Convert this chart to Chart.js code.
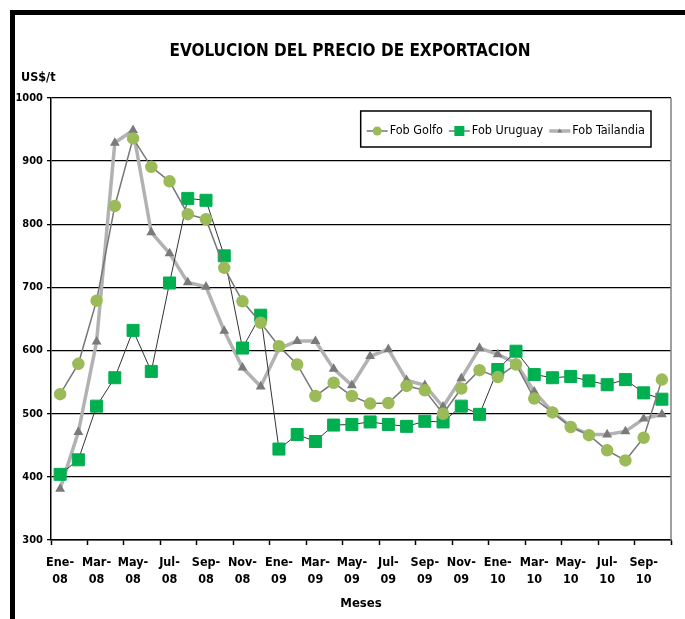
<!DOCTYPE html>
<html>
<head>
<meta charset="utf-8">
<script src="https://cdn.jsdelivr.net/npm/chart.js@4.4.1/dist/chart.umd.min.js"></script>
<style>
  html, body { margin: 0; padding: 0; background: #fff; }
  #wrap { position: relative; width: 685px; height: 619px; }
  #frame { position: absolute; left: 10px; top: 10px; right: 0; bottom: 0; border-top: 5px solid #000; border-left: 5px solid #000; pointer-events: none; }
  canvas { position: absolute; left: 0; top: 0; }
</style>
</head>
<body>
<div id="wrap">
  <canvas id="chart" width="685" height="619"></canvas>
  <div id="frame"></div>
</div>
<script>
const FONT = "'Liberation Sans Narrow', 'DejaVu Sans Condensed', Arial, sans-serif";

const months = [
  'Ene-08', 'Feb-08', 'Mar-08', 'Abr-08', 'May-08', 'Jun-08', 'Jul-08', 'Ago-08', 'Sep-08', 'Oct-08', 'Nov-08', 'Dic-08',
  'Ene-09', 'Feb-09', 'Mar-09', 'Abr-09', 'May-09', 'Jun-09', 'Jul-09', 'Ago-09', 'Sep-09', 'Oct-09', 'Nov-09', 'Dic-09',
  'Ene-10', 'Feb-10', 'Mar-10', 'Abr-10', 'May-10', 'Jun-10', 'Jul-10', 'Ago-10', 'Sep-10', 'Oct-10'
];

// US$/t
const fobGolfo = [531, 579, 679, 829, 936, 891, 868, 816, 808, 731, 678, 644, 607, 578, 528, 549, 528, 516, 517, 544, 537, 500, 540, 569, 558, 578, 524, 502, 479, 466, 442, 426, 462, 554];
const fobUruguay = [404, 427, 512, 557, 632, 567, 707, 841, 838, 750, 604, 656, 444, 467, 456, 482, 483, 487, 483, 480, 488, 487, 512, 499, 570, 599, 562, 557, 559, 552, 546, 554, 533, 523];
const fobTailandia = [381, 471, 614, 929, 949, 787, 754, 708, 701, 631, 573, 543, 603, 615, 615, 571, 545, 591, 602, 553, 545, 511, 556, 604, 594, 580, 535, 503, 480, 467, 467, 472, 492, 499];

const yTicks = [300, 400, 500, 600, 700, 800, 900, 1000];

const TITLE = 'EVOLUCION DEL PRECIO DE EXPORTACION';

// legend in a box inside the plot, Excel style (line with marker)
const boxLegend = {
  id: 'boxLegend',
  afterDraw(chart) {
    const { ctx, chartArea } = chart;
    const sets = chart.data.datasets;
    ctx.save();
    ctx.font = '12.5px ' + FONT;
    const lineW = 21, gap = 2, itemGap = 6, padX = 6, h = 36;
    const widths = sets.map(ds => lineW + gap + ctx.measureText(ds.label).width);
    const total = widths.reduce((a, b) => a + b, 0) + itemGap * (sets.length - 1) + padX * 2;
    const right = chartArea.right - 20;
    const top = chartArea.top + 13;
    const left = right - total;
    ctx.fillStyle = '#fff';
    ctx.fillRect(left, top, total, h);
    ctx.strokeStyle = '#000';
    ctx.lineWidth = 1.5;
    ctx.strokeRect(left, top, total, h);

    let x = left + padX;
    const y = top + h / 2 + 2;
    sets.forEach((ds, i) => {
      ctx.strokeStyle = ds.borderColor;
      ctx.lineWidth = ds.borderWidth;
      ctx.beginPath();
      ctx.moveTo(x, y);
      ctx.lineTo(x + lineW, y);
      ctx.stroke();
      const cx = x + lineW / 2;
      ctx.fillStyle = ds.pointBackgroundColor;
      ctx.beginPath();
      if (ds.pointStyle === 'circle') {
        ctx.arc(cx, y, 4.5, 0, Math.PI * 2);
      } else if (ds.pointStyle === 'rect') {
        ctx.rect(cx - 5, y - 5, 10, 10);
      } else {
        ctx.moveTo(cx, y - 2.5);
        ctx.lineTo(cx + 2.5, y + 1.5);
        ctx.lineTo(cx - 2.5, y + 1.5);
        ctx.closePath();
      }
      ctx.fill();
      ctx.fillStyle = '#000';
      ctx.textAlign = 'left';
      ctx.textBaseline = 'middle';
      ctx.fillText(ds.label, x + lineW + gap, y);
      x += widths[i] + itemGap;
    });
    ctx.restore();
  }
};

// title, unit label over the y axis and right edge of the plot area
const plotExtras = {
  id: 'plotExtras',
  afterDraw(chart) {
    const { ctx, chartArea } = chart;
    ctx.save();
    ctx.strokeStyle = '#808080';
    ctx.lineWidth = 1.5;
    ctx.beginPath();
    ctx.moveTo(chartArea.right, chartArea.top);
    ctx.lineTo(chartArea.right, chartArea.bottom);
    ctx.stroke();

    ctx.fillStyle = '#000';
    ctx.textBaseline = 'middle';
    ctx.font = 'bold 17px ' + FONT;
    ctx.textAlign = 'center';
    ctx.fillText(TITLE, 350, 52);

    ctx.font = 'bold 12.5px ' + FONT;
    ctx.textAlign = 'left';
    ctx.fillText('US$/t', chartArea.left - 30, chartArea.top - 20);
    ctx.restore();
  }
};

new Chart(document.getElementById('chart'), {
  type: 'line',
  data: {
    labels: months,
    datasets: [
      {
        label: 'Fob Golfo',
        data: fobGolfo,
        borderColor: '#777777',
        borderWidth: 1.5,
        pointStyle: 'circle',
        pointRadius: 5.5,
        pointBackgroundColor: '#9bbb59',
        pointBorderColor: '#9bbb59',
        tension: 0,
      },
      {
        label: 'Fob Uruguay',
        data: fobUruguay,
        borderColor: '#333333',
        borderWidth: 1,
        pointStyle: 'rect',
        pointRadius: 8.5,
        pointBackgroundColor: '#00b050',
        pointBorderColor: '#00b050',
        tension: 0,
      },
      {
        label: 'Fob Tailandia',
        data: fobTailandia,
        borderColor: '#b2b2b2',
        borderWidth: 3.5,
        pointStyle: 'triangle',
        pointRadius: 2.2,
        pointBackgroundColor: '#7a7a7a',
        pointBorderColor: '#7a7a7a',
        tension: 0,
      },
    ],
  },
  options: {
    responsive: false,
    animation: false,
    layout: { padding: { top: 98, left: 0, right: 14, bottom: 0 } },
    plugins: {
      legend: { display: false },
      tooltip: { enabled: false },
    },
    scales: {
      x: {
        offset: true,
        afterFit: scale => { scale.height = 79; },
        grid: {
          offset: true,
          drawOnChartArea: false,
          tickLength: 5,
          tickWidth: 1.5,
          tickColor: c => (c.index === undefined || c.index % 2 === 0) ? '#000' : 'rgba(0,0,0,0)',
        },
        border: { color: '#000', width: 1.5 },
        ticks: {
          autoSkip: false,
          maxRotation: 0,
          padding: 9,
          color: '#000',
          font: { family: FONT, size: 12.5, weight: 'bold', lineHeight: 1.35 },
          callback: (v, i) => {
            if (i % 2 !== 0) return '';
            const [m, y] = months[i].split('-');
            return [m + '-', y];
          },
        },
        title: {
          display: true,
          text: 'Meses',
          color: '#000',
          font: { family: FONT, size: 13, weight: 'bold', lineHeight: 1.2 },
          padding: { top: 0, bottom: 8 },
        },
      },
      y: {
        min: 300,
        max: 1000,
        afterFit: scale => { scale.width = 51; },
        afterBuildTicks: scale => { scale.ticks = yTicks.map(v => ({ value: v })); },
        grid: {
          color: '#000',
          lineWidth: 1.3,
          tickLength: 4,
          tickColor: '#000',
        },
        border: { color: '#000', width: 1.5 },
        ticks: {
          padding: 4,
          color: '#000',
          font: { family: FONT, size: 11, weight: 'bold' },
          callback: v => String(v),
        },
      },
    },
  },
  plugins: [boxLegend, plotExtras],
});
</script>
</body>
</html>
